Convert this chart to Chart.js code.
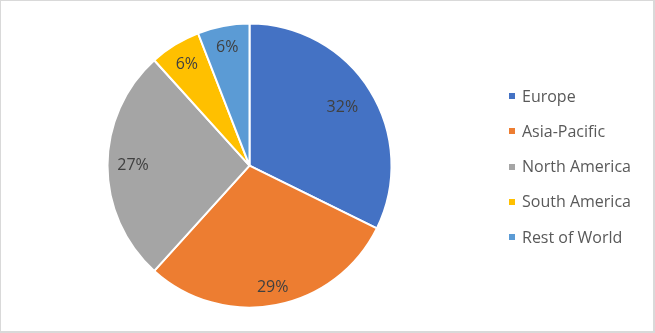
<!DOCTYPE html>
<html>
<head>
<meta charset="utf-8">
<script src="https://cdn.jsdelivr.net/npm/chart.js@4"></script>
<style>
  html, body { margin: 0; padding: 0; background: #ffffff; }
  #wrap { position: absolute; left: 0; top: 0; width: 655px; height: 333px; }
  #c { position: absolute; left: 0; top: 0; }
  #frame { position: absolute; left: 0; top: 0; width: 655px; height: 333px; box-sizing: border-box;
           border-top: 1px solid #d9d9d9; border-left: 1px solid #d9d9d9;
           border-right: 2px solid #d9d9d9; border-bottom: 2px solid #d9d9d9; pointer-events: none; }
</style>
</head>
<body>
<div id="wrap">
  <canvas id="c" width="655" height="333"></canvas>
  <div id="frame"></div>
</div>
<script>
const categories = ["Europe", "Asia-Pacific", "North America", "South America", "Rest of World"];
const shareValues = [32.3, 29.4, 26.6, 5.8, 5.9];
const sliceColors = ["#4472C4", "#ED7D31", "#A5A5A5", "#FFC000", "#5B9BD5"];
const labelRadiusFractions = [0.77, 0.87, 0.82, 0.84, 0.85];

const FONT = "'Open Sans', 'Noto Sans', sans-serif";

const pctLabels = {
  id: 'pctLabels',
  afterDatasetsDraw(chart) {
    const ctx = chart.ctx;
    const meta = chart.getDatasetMeta(0);
    const data = chart.data.datasets[0].data;
    const total = data.reduce((a, b) => a + b, 0);
    ctx.save();
    ctx.font = "16px " + FONT;
    ctx.fillStyle = "#404040";
    ctx.textAlign = "center";
    ctx.textBaseline = "middle";
    meta.data.forEach((arc, i) => {
      const p = arc.getProps(['x', 'y', 'startAngle', 'endAngle', 'outerRadius'], true);
      const mid = (p.startAngle + p.endAngle) / 2;
      const r = p.outerRadius * labelRadiusFractions[i];
      const txt = Math.round(data[i] / total * 100) + "%";
      ctx.fillText(txt, p.x + Math.cos(mid) * r, p.y + Math.sin(mid) * r);
    });
    ctx.restore();
  }
};

const sideLegend = {
  id: 'sideLegend',
  afterDraw(chart) {
    const ctx = chart.ctx;
    const labels = chart.data.labels;
    const colors = chart.data.datasets[0].backgroundColor;
    const boxX = 509, box = 6, textX = 522, y0 = 96, step = 35.3;
    ctx.save();
    ctx.font = "16px " + FONT;
    ctx.fillStyle = "#595959";
    ctx.textAlign = "left";
    ctx.textBaseline = "middle";
    labels.forEach((lab, i) => {
      const y = y0 + i * step;
      ctx.fillStyle = colors[i];
      ctx.fillRect(boxX, Math.round(y - box / 2), box, box);
      ctx.fillStyle = "#595959";
      ctx.fillText(lab, textX, y + 1);
    });
    ctx.restore();
  }
};

new Chart(document.getElementById('c'), {
  type: 'pie',
  data: {
    labels: categories,
    datasets: [{
      data: shareValues,
      backgroundColor: sliceColors,
      borderColor: '#ffffff',
      borderWidth: 2
    }]
  },
  options: {
    responsive: false,
    animation: false,
    radius: 142,
    layout: { padding: { left: 100, right: 256, top: 20, bottom: 21.8 } },
    plugins: {
      legend: { display: false },
      tooltip: { enabled: false }
    }
  },
  plugins: [pctLabels, sideLegend]
});
</script>
</body>
</html>
